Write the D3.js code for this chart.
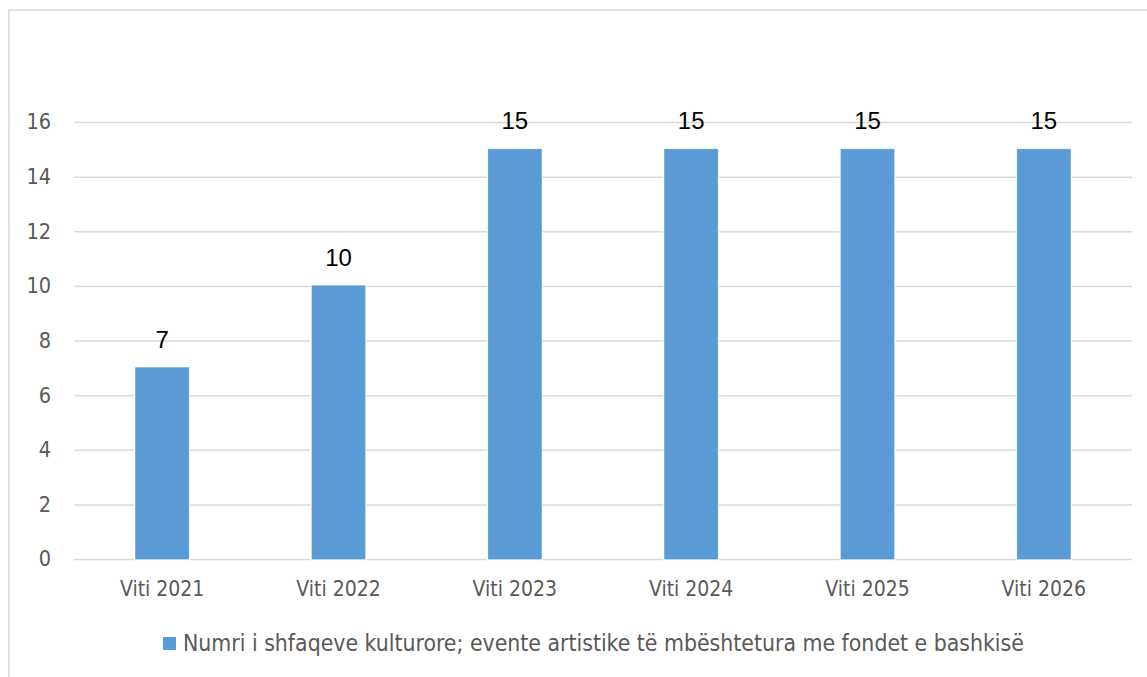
<!DOCTYPE html>
<html>
<head>
<meta charset="utf-8">
<script src="https://cdn.jsdelivr.net/npm/d3@7"></script>
<style>
  html, body { margin: 0; padding: 0; background: #ffffff; }
  svg { display: block; }
</style>
</head>
<body>
<svg id="chart" width="1147" height="677"></svg>
<script>
// Cultural events supported by municipal funds, per year
const categories = ["Viti 2021", "Viti 2022", "Viti 2023", "Viti 2024", "Viti 2025", "Viti 2026"];
const values = [7, 10, 15, 15, 15, 15];
const yTicks = [0, 2, 4, 6, 8, 10, 12, 14, 16];
const seriesName = "Numri i shfaqeve kulturore; evente artistike të mbështetura me fondet e bashkisë";

const svg = d3.select("#chart");
const grayFont = "'DejaVu Sans Condensed', 'DejaVu Sans', sans-serif";
const labelFont = "'Liberation Sans Narrow', 'Liberation Sans', Arial, sans-serif";
const textGray = "#595959";
const gridGray = "#d9d9d9";
const barBlue = "#5b9bd5";

// chart frame
svg.append("rect")
  .attr("x", 9).attr("y", 10)
  .attr("width", 1160).attr("height", 700)
  .attr("fill", "none")
  .attr("stroke", gridGray)
  .attr("stroke-width", 1.5);

const plot = { left: 74, right: 1132, top: 122, bottom: 559 };

const x = d3.scaleBand()
  .domain(categories)
  .range([plot.left, plot.right])
  .paddingInner(0.70)
  .paddingOuter(0.35);

const y = d3.scaleLinear()
  .domain([0, 16])
  .range([plot.bottom, plot.top]);

// horizontal gridlines with tick labels
const yAxis = d3.axisLeft(y)
  .tickValues(yTicks)
  .tickSize(-(plot.right - plot.left))
  .tickPadding(23)
  .tickFormat(d3.format("d"));

const gy = svg.append("g")
  .attr("transform", `translate(${plot.left},0)`)
  .call(yAxis);
gy.select(".domain").remove();
gy.selectAll(".tick line")
  .attr("stroke", gridGray)
  .attr("stroke-width", 1.5);
gy.selectAll(".tick text")
  .attr("fill", textGray)
  .style("font-family", grayFont)
  .style("font-size", "21.5px");

// category labels
const xAxis = d3.axisBottom(x).tickSize(0).tickPadding(22);
const gx = svg.append("g")
  .attr("transform", `translate(0,${plot.bottom})`)
  .call(xAxis);
gx.select(".domain").remove();
gx.selectAll(".tick text")
  .attr("fill", textGray)
  .style("font-family", grayFont)
  .style("font-size", "21px");

// bars, each with a thin white outline that clears the gridlines
const bars = svg.append("g");
bars.selectAll("rect")
  .data(values)
  .join("rect")
  .attr("x", (d, i) => x(categories[i]))
  .attr("y", d => y(d))
  .attr("width", x.bandwidth())
  .attr("height", d => y(0) - y(d))
  .attr("fill", barBlue)
  .attr("stroke", "#ffffff")
  .attr("stroke-width", 3)
  .attr("paint-order", "stroke");

bars.selectAll("rect")
  .clone()
  .attr("stroke", "#7fb0de")
  .attr("stroke-width", 1);

// value labels
svg.append("g").selectAll("text")
  .data(values)
  .join("text")
  .attr("x", (d, i) => x(categories[i]) + x.bandwidth() / 2)
  .attr("y", d => y(d) - 20)
  .attr("text-anchor", "middle")
  .attr("fill", "#000000")
  .style("font-family", labelFont)
  .style("font-size", "24px")
  .text(d => d);

// legend
const legend = svg.append("g").attr("transform", "translate(163,637)");
legend.append("rect")
  .attr("width", 13).attr("height", 13)
  .attr("fill", barBlue);
legend.append("text")
  .attr("x", 20).attr("y", 6.5)
  .attr("dy", "0.35em")
  .attr("fill", textGray)
  .style("font-family", grayFont)
  .style("font-size", "22.8px")
  .text(seriesName);
</script>
</body>
</html>
